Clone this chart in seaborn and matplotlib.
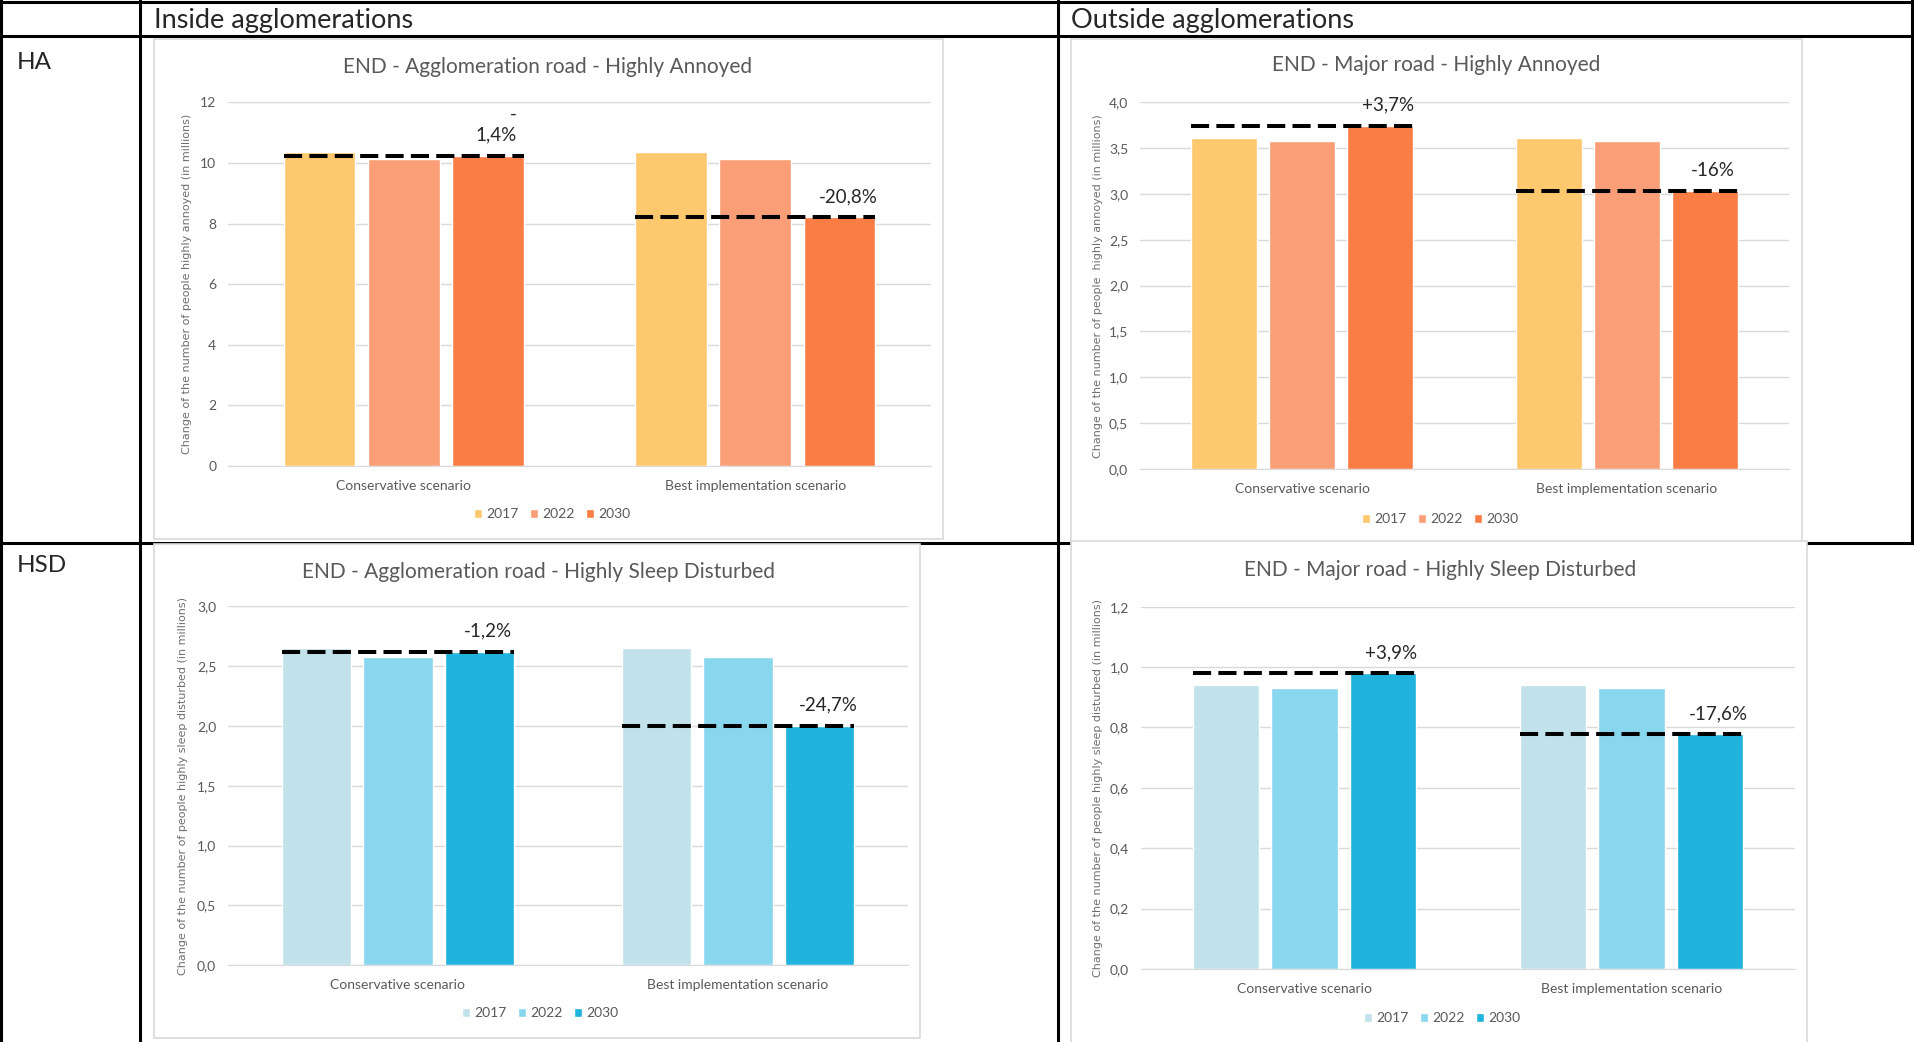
import matplotlib
matplotlib.use("Agg")
import matplotlib.pyplot as plt
import pandas as pd
import seaborn as sns
from matplotlib.lines import Line2D
from matplotlib.patches import Rectangle
from matplotlib.ticker import FuncFormatter, MultipleLocator

W, H = 1915, 1042

scenarios = ["Conservative scenario", "Best implementation scenario"]
years = ["2017", "2022", "2030"]

# people exposed, in millions (one value per scenario)
ha_agglo_2017 = [10.36, 10.36]
ha_agglo_2022 = [10.13, 10.13]
ha_agglo_2030 = [10.23, 8.20]
ha_agglo_change = ["-\n1,4%", "-20,8%"]

ha_major_2017 = [3.61, 3.61]
ha_major_2022 = [3.58, 3.58]
ha_major_2030 = [3.745, 3.03]
ha_major_change = ["+3,7%", "-16%"]

hsd_agglo_2017 = [2.655, 2.655]
hsd_agglo_2022 = [2.58, 2.58]
hsd_agglo_2030 = [2.62, 2.0]
hsd_agglo_change = ["-1,2%", "-24,7%"]

hsd_major_2017 = [0.941, 0.941]
hsd_major_2022 = [0.932, 0.932]
hsd_major_2030 = [0.979, 0.777]
hsd_major_change = ["+3,9%", "-17,6%"]

orange = ["#FEC86E", "#F99E76", "#F97D45"]
blue = ["#C2E2EB", "#88D7EE", "#1FB3DD"]

sns.set_style("white")
plt.rcParams["font.family"] = ["Lato", "DejaVu Sans"]

fig = plt.figure(figsize=(W / 100, H / 100), dpi=100)


def fx(x):
    return x / W


def fy(y):
    return 1 - y / H


def table_line(x0, y0, x1, y1):
    fig.add_artist(Line2D([fx(x0), fx(x1)], [fy(y0), fy(y1)],
                          color="black", lw=2.2, zorder=-2))


def panel(box, frame, title, title_xy, legend_xy, ylabel, ylabel_x,
          v2017, v2022, v2030, changes, palette, ymax, step, decimals):
    x0, y0, x1, y1 = frame
    fig.add_artist(Rectangle((fx(x0), fy(y1)), fx(x1 - x0), (y1 - y0) / H,
                             facecolor="white", edgecolor="#D9D9D9", lw=1.2, zorder=-1))
    ax = fig.add_axes([fx(box[0]), fy(box[3]), fx(box[2] - box[0]), (box[3] - box[1]) / H])
    ax.patch.set_alpha(0)

    df = pd.DataFrame({
        "scenario": scenarios * 3,
        "year": [y for y in years for _ in scenarios],
        "value": v2017 + v2022 + v2030,
    })
    sns.barplot(data=df, x="scenario", y="value", hue="year", palette=palette,
                width=0.72, gap=0.15, saturation=1, ax=ax)

    # dashed 2030 level + change label
    first, last = ax.containers[0], ax.containers[2]
    for i, label in enumerate(changes):
        bar = last[i]
        left = first[i].get_x()
        right = bar.get_x() + bar.get_width()
        level = bar.get_height()
        ax.plot([left, right], [level, level], color="black", lw=2.9,
                ls=(0, (4.5, 1.8)), zorder=5)
        ax.annotate(label, (bar.get_x() + bar.get_width() / 2, level),
                    xytext=(6, 9), textcoords="offset points", ha="center",
                    va="bottom", fontsize=13.5, multialignment="right", linespacing=1.3)

    ax.set_xlim(-0.5, 1.5)
    ax.set_ylim(0, ymax)
    ax.yaxis.set_major_locator(MultipleLocator(step))
    ax.yaxis.set_major_formatter(FuncFormatter(lambda v, _: f"{v:.{decimals}f}".replace(".", ",")))
    ax.yaxis.grid(True, color="#D9D9D9", lw=1)
    ax.set_axisbelow(True)
    for s in ["top", "right", "left"]:
        ax.spines[s].set_visible(False)
    ax.spines["bottom"].set_color("#D9D9D9")
    ax.tick_params(axis="x", length=0, pad=10, labelsize=10, labelcolor="#595959")
    ax.tick_params(axis="y", length=0, pad=8.5, labelsize=10, labelcolor="#595959")
    ax.set_xlabel("")
    ax.set_ylabel(ylabel, fontsize=8, color="#6E6E6E", family="DejaVu Sans")
    ax.yaxis.label.set_va("center")
    ax.yaxis.set_label_coords((ylabel_x - box[0]) / (box[2] - box[0]), 0.5)

    leg = ax.get_legend()
    handles = leg.legend_handles
    labels = [t.get_text() for t in leg.get_texts()]
    leg.remove()
    ax.legend(handles, labels, loc="center", bbox_to_anchor=(fx(legend_xy[0]), fy(legend_xy[1])),
              bbox_transform=fig.transFigure, ncol=3, frameon=False, fontsize=10,
              handlelength=0.6, handleheight=0.6, handletextpad=0.3,
              columnspacing=0.8, labelcolor="#595959")

    fig.text(fx(title_xy[0]), fy(title_xy[1]), title, ha="center", va="center",
             fontsize=15, color="#595959")
    return ax


# table grid
table_line(0, 1.5, 1913, 1.5)
table_line(0, 35.5, 1913, 35.5)
table_line(0, 542.5, 1915, 542.5)
table_line(1.5, 0, 1.5, 1042)
table_line(140, 0, 140, 1042)
table_line(1057.5, 0, 1057.5, 1042)
table_line(1912, 0, 1912, 543)

fig.text(fx(154), fy(28), "Inside agglomerations", fontsize=19.5, va="baseline")
fig.text(fx(1071), fy(28), "Outside agglomerations", fontsize=19.5, va="baseline")
fig.text(fx(17), fy(69), "HA", fontsize=17.5, va="baseline")
fig.text(fx(17), fy(572), "HSD", fontsize=17.5, va="baseline")

panel((228, 102.3, 931, 466), (154, 39, 943, 539),
      "END - Agglomeration road - Highly Annoyed", (548, 67), (552, 514),
      "Change of the number of people highly annoyed (in millions)", 187,
      ha_agglo_2017, ha_agglo_2022, ha_agglo_2030, ha_agglo_change,
      orange, 12, 2, 0)

panel((1140, 102.3, 1789, 469), (1071, 39, 1802, 542),
      "END - Major road - Highly Annoyed", (1436, 65), (1440, 519),
      "Change of the number of people  highly annoyed (in millions)", 1098,
      ha_major_2017, ha_major_2022, ha_major_2030, ha_major_change,
      orange, 4, 0.5, 1)

panel((228, 606.3, 908, 965.3), (154, 544, 920, 1038),
      "END - Agglomeration road - Highly Sleep Disturbed", (538, 572), (540, 1013),
      "Change of the number of people highly sleep disturbed (in millions)", 183,
      hsd_agglo_2017, hsd_agglo_2022, hsd_agglo_2030, hsd_agglo_change,
      blue, 3, 0.5, 1)

panel((1141, 606.7, 1795, 969), (1071, 541, 1807, 1045),
      "END - Major road - Highly Sleep Disturbed", (1440, 570), (1442, 1018),
      "Change of the number of people highly sleep disturbed (in millions)", 1098,
      hsd_major_2017, hsd_major_2022, hsd_major_2030, hsd_major_change,
      blue, 1.2, 0.2, 1)

fig.savefig("out.png", dpi=100)
